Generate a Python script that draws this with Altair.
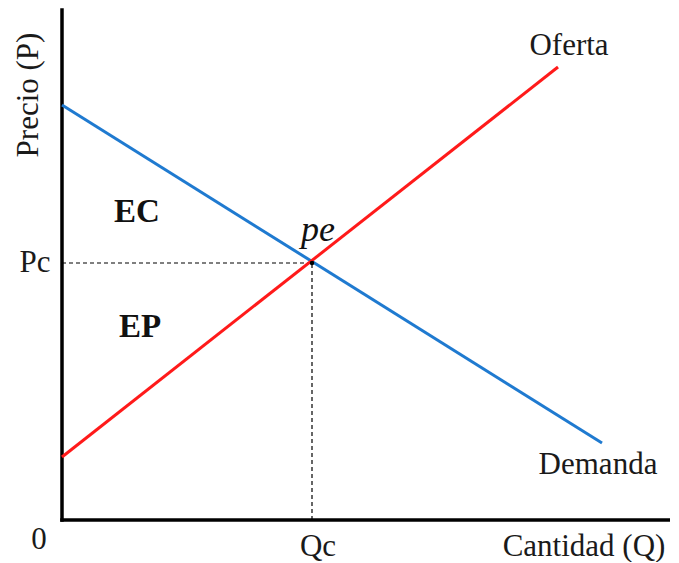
import altair as alt
import pandas as pd

# Curves (Q, P) in arbitrary units
q_demand = [0.0, 10.8]
p_demand = [8.3, 1.54]
q_supply = [0.0, 9.92]
p_supply = [1.26, 9.06]
q_eq = 5.0
p_eq = 5.14

# Annotation labels
labels = ["Precio (P)", "Pc", "0", "Qc", "Cantidad (Q)", "Oferta", "Demanda"]
label_q = [-0.66, -0.54, -0.46, 5.12, 10.44, 10.14, 10.72]
label_p = [8.5, 5.14, -0.4, -0.54, -0.54, 9.48, 1.1]
label_angle = [270, 0, 0, 0, 0, 0, 0]

bold_labels = ["EC", "EP"]
bold_q = [1.5, 1.56]
bold_p = [6.16, 3.86]

QMAX = 12.16
PMAX = 10.2

xs = alt.Scale(domain=[0, QMAX], nice=False, zero=False)
ys = alt.Scale(domain=[0, PMAX], nice=False, zero=False)
X = lambda f: alt.X(f, type="quantitative", scale=xs, axis=None)
Y = lambda f: alt.Y(f, type="quantitative", scale=ys, axis=None)

FONT = "Liberation Serif"

demand = pd.DataFrame({"q": q_demand, "p": p_demand})
supply = pd.DataFrame({"q": q_supply, "p": p_supply})

demand_line = alt.Chart(demand).mark_line(color="#1f7ad0", strokeWidth=3).encode(x=X("q"), y=Y("p"))
supply_line = alt.Chart(supply).mark_line(color="#ff1a1a", strokeWidth=3).encode(x=X("q"), y=Y("p"))

axes_df = pd.DataFrame({"q": [0, 0], "p": [0, 0], "q2": [0, QMAX], "p2": [PMAX, 0]})
axes = alt.Chart(axes_df).mark_rule(color="black", strokeWidth=3.5, strokeCap="square").encode(
    x=X("q"), y=Y("p"), x2="q2", y2="p2"
)

dash_df = pd.DataFrame({"q": [0, q_eq], "p": [p_eq, 0], "q2": [q_eq, q_eq], "p2": [p_eq, p_eq]})
dashes = alt.Chart(dash_df).mark_rule(color="black", strokeWidth=1.2, strokeDash=[4, 3]).encode(
    x=X("q"), y=Y("p"), x2="q2", y2="p2"
)

eq_pt = alt.Chart(pd.DataFrame({"q": [q_eq], "p": [p_eq]})).mark_point(
    filled=True, color="black", size=20, opacity=1
).encode(x=X("q"), y=Y("p"))

lab_df = pd.DataFrame({"t": labels, "q": label_q, "p": label_p, "a": label_angle})
texts = alt.Chart(lab_df).mark_text(font=FONT, fontSize=31, color="#1a1a1a", baseline="middle", align="center").encode(
    x=X("q"), y=Y("p"), text="t:N", angle=alt.Angle("a:Q", scale=None)
)

bold_df = pd.DataFrame({"t": bold_labels, "q": bold_q, "p": bold_p})
bold = alt.Chart(bold_df).mark_text(font=FONT, fontSize=33, fontWeight="bold", color="#111", baseline="middle").encode(
    x=X("q"), y=Y("p"), text="t:N"
)

pe = alt.Chart(pd.DataFrame({"t": ["pe"], "q": [5.12], "p": [5.8]})).mark_text(
    font=FONT, fontSize=36, fontStyle="italic", color="#111", baseline="middle"
).encode(x=X("q"), y=Y("p"), text="t:N")

chart = alt.layer(axes, dashes, demand_line, supply_line, eq_pt, texts, bold, pe).properties(
    width=608, height=510,
    autosize=alt.AutoSizeParams(type="none"),
    padding={"left": 54, "top": 2, "right": 0, "bottom": 42},
).configure_view(stroke=None)

chart.save("out.html", embed_options={"renderer": "svg", "actions": False})
